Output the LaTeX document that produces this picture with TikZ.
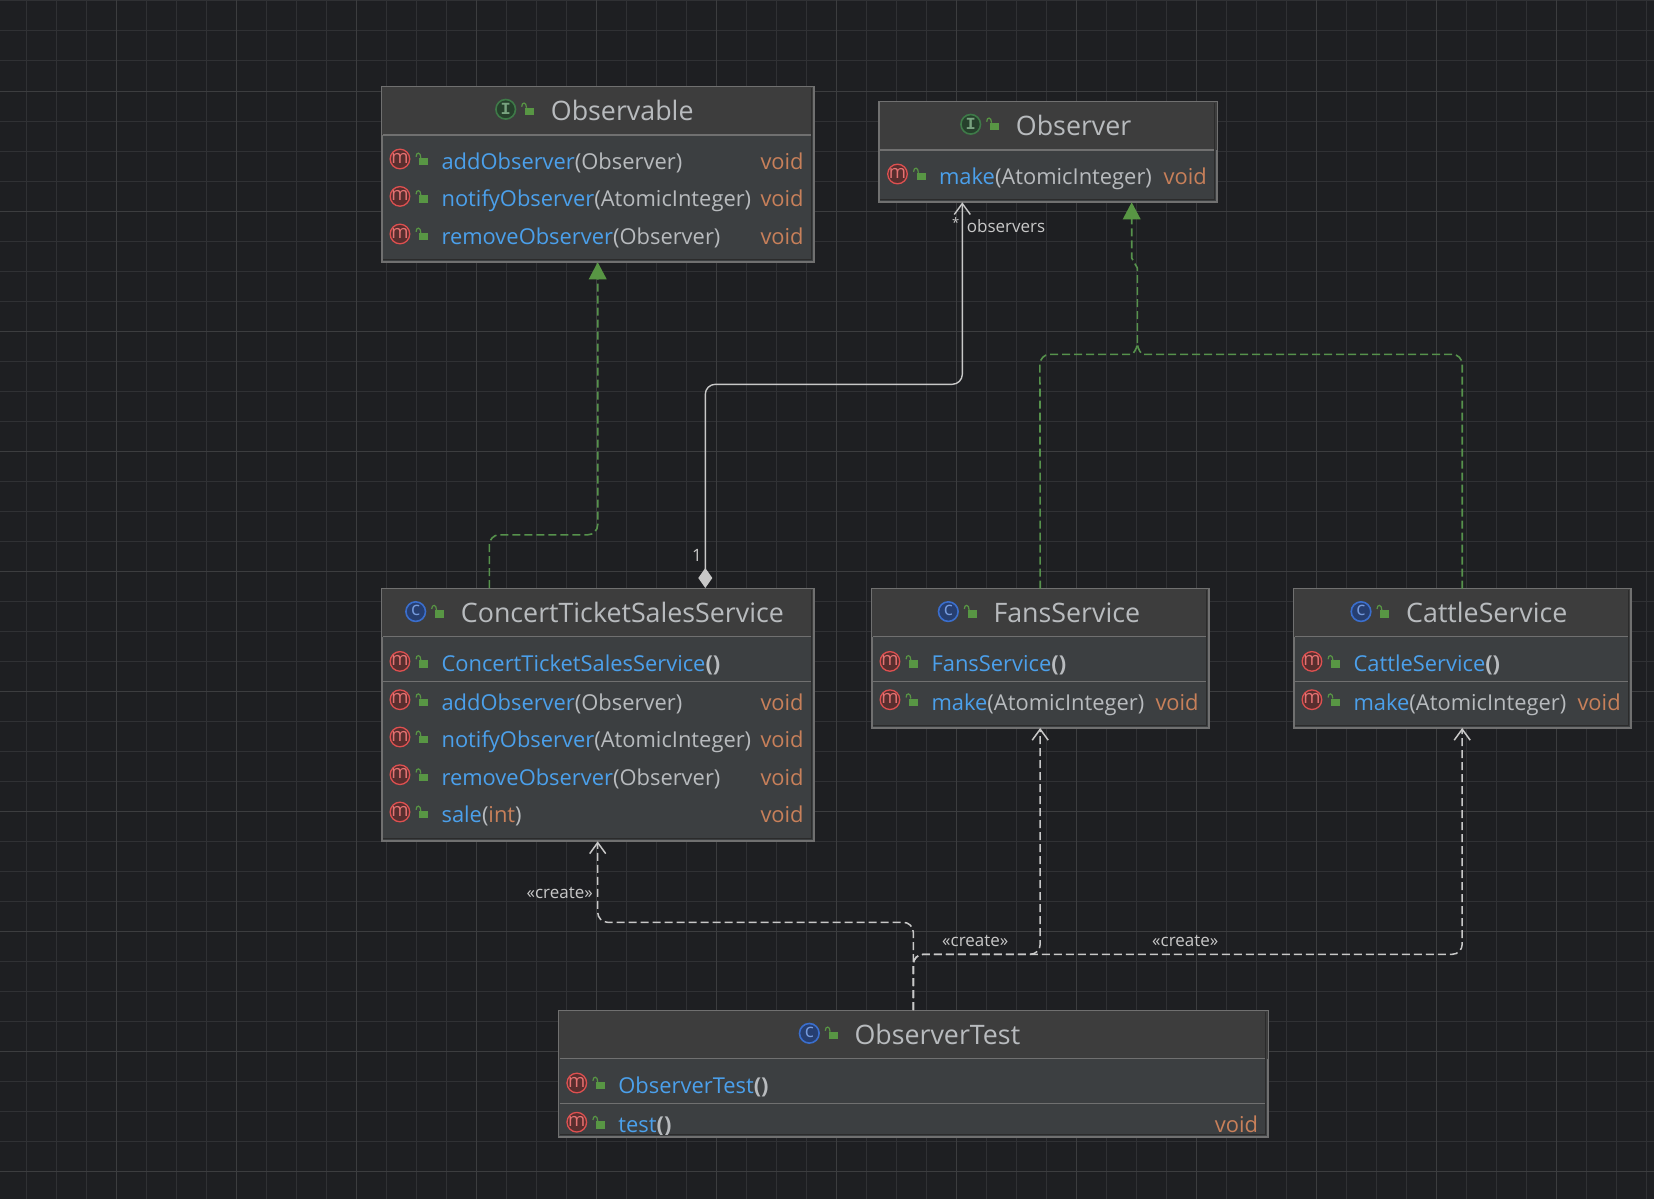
\documentclass[tikz,border=0pt]{standalone}
\usepackage{fontspec}
\setmainfont{Open Sans}
\newfontfamily\iconmono{Liberation Mono}
\usetikzlibrary{arrows.meta,calc}
\definecolor{canvascol}{RGB}{30,31,34}
\definecolor{gridcol}{RGB}{48,49,52}
\definecolor{gridmajor}{RGB}{60,61,63}
\definecolor{headcol}{RGB}{61,61,61}
\definecolor{bodycol}{RGB}{60,63,65}
\definecolor{edgecol}{RGB}{112,112,112}
\definecolor{shadecol}{RGB}{43,43,43}
\definecolor{textcol}{RGB}{184,187,190}
\definecolor{methodcol}{RGB}{75,160,235}
\definecolor{voidcol}{RGB}{200,128,90}
\definecolor{lockcol}{RGB}{88,150,68}
\definecolor{realizecol}{RGB}{86,146,76}
\definecolor{linkcol}{RGB}{200,200,200}
\definecolor{redcol}{RGB}{222,80,80}
\definecolor{reddark}{RGB}{88,46,46}
\definecolor{bluecol}{RGB}{58,110,205}
\definecolor{bluedark}{RGB}{38,62,112}
\definecolor{greencol}{RGB}{62,122,72}
\definecolor{greendark}{RGB}{38,64,44}

\tikzset{
  classbox/.style={rectangle, draw=edgecol, line width=1.2pt, fill=bodycol, inner sep=0pt},
  titletext/.style={anchor=base west, inner sep=0pt, text=textcol, font=\fontsize{26.8}{30}\selectfont},
  rowtext/.style={anchor=base west, inner sep=0pt, text=textcol, font=\fontsize{21.9}{26}\selectfont},
  voidtext/.style={anchor=base east, inner sep=0pt, text=voidcol, font=\fontsize{21.9}{26}\selectfont},
  linklabel/.style={inner sep=0pt, text=linkcol, font=\fontsize{17}{20}\selectfont},
  seprule/.style={draw=edgecol, line width=1.2pt},
  realizeline/.style={draw=realizecol, line width=1.6pt, dash pattern=on 8pt off 4pt, rounded corners=10pt},
  createline/.style={draw=linkcol, line width=1.5pt, dash pattern=on 8pt off 4pt, rounded corners=10pt},
  lockicon/.pic={
    \fill[lockcol] (4,-1.5) rectangle (13,6);
    \draw[lockcol, line width=1.2pt] (0.7,-2.5) .. controls (0.7,-7.5) and (5.5,-7.5) .. (5.5,-1.5);
  },
  methodicon/.pic={
    \draw[redcol, fill=reddark, line width=1.3pt] (0,0) circle[radius=9.8];
    \node[inner sep=0pt, text=redcol!80!white, font=\fontsize{18.5}{18}\selectfont] (-m) at (0,-1) {m};
  },
  classicon/.pic={
    \draw[bluecol, fill=bluedark, line width=1.6pt] (0,0) circle[radius=9.8];
    \node[inner sep=0pt, text=bluecol!70!white, font=\fontsize{19}{19}\selectfont] (-c) at (0,-1) {c};
  },
  interfaceicon/.pic={
    \draw[greencol, fill=greendark, line width=1.6pt] (0,0) circle[radius=9.8];
    \node[inner sep=0pt, text=greencol!70!white, font=\iconmono\bfseries\fontsize{17}{17}\selectfont] (-i) at (0,0) {I};
  },
}

% header band of a box: box, rule y, icon, title x, baseline, title
\newcommand{\classhead}[6]{
  \fill[headcol] (#1.north west) rectangle (#1.east |- 0,#2);
  \draw[shadecol, line width=1pt] ($(#1.north east)+(-2.5,1.5)$) -- ($(#1.south east)+(-2.5,-2.5)$) -- ($(#1.south west)+(1.5,-2.5)$);
  \draw[seprule] ($(#1.west |- 0,#2)+(1.5,0)$) -- ($(#1.east |- 0,#2)+(-3,0)$);
  \draw[edgecol, line width=1.2pt] (#1.north west) rectangle (#1.south east);
  \pic (#1icon) at ($(#4,#5)+(-46,-10.7)$) {#3};
  \pic at ($(#4,#5)+(-30.7,-10.8)$) {lockicon};
  \node[titletext] (#1title) at ($(#4,#5)+(-1,0.6)$) {#6};
}
\newcommand{\rowicons}[3]{
  \pic (#1mark) at ($(#2.west |- 0,#3)+(18.6,-10.3)$) {methodicon};
  \pic at ($(#2.west |- 0,#3)+(34,-10)$) {lockicon};
}
% row with a return type
\newcommand{\methodrow}[5]{
  \rowicons{#1}{#2}{#3}
  \node[rowtext] (#1name) at ($(#2.west |- 0,#3)+(60,0)$) {\textcolor{methodcol}{#4}#5};
  \node[voidtext] (#1void) at ($(#2.east |- 0,#3)+(-10.2,0)$) {void};
}
% row of a constructor
\newcommand{\ctorrow}[4]{
  \rowicons{#1}{#2}{#3}
  \node[rowtext] (#1name) at ($(#2.west |- 0,#3)+(60,0)$) {\textcolor{methodcol}{#4}\textbf{()}};
}

\begin{document}
\begin{tikzpicture}[x=1pt,y=-1pt]
\useasboundingbox (0,0) rectangle (1654,1199);
\fill[canvascol] (0,0) rectangle (1654,1199);

% grid
\foreach \gx in {26,56,...,1650} \draw[gridcol, line width=1pt] (\gx,0) -- (\gx,1199);
\foreach \gy in {1,31,...,1198} \draw[gridcol, line width=1pt] (0,\gy) -- (1654,\gy);
\foreach \gx in {116,236,...,1650} \draw[gridmajor, line width=1pt] (\gx,0) -- (\gx,1199);
\foreach \gy in {91,211,...,1198} \draw[gridmajor, line width=1pt] (0,\gy) -- (1654,\gy);

% boxes
\node[classbox, minimum width=431.5pt, minimum height=174.5pt] (observable) at (597.7,174.4) {};
\classhead{observable}{135}{interfaceicon}{551.7}{120}{Observable}
\methodrow{addone}{observable}{169.3}{addObserver}{(Observer)}
\methodrow{notifyone}{observable}{206.7}{notifyObserver}{(AtomicInteger)}
\methodrow{removeone}{observable}{244.3}{removeObserver}{(Observer)}

\node[classbox, minimum width=337pt, minimum height=99.5pt] (observer) at (1048,151.9) {};
\classhead{observer}{150}{interfaceicon}{1016.7}{135}{Observer}
\methodrow{makeone}{observer}{184.3}{make}{(AtomicInteger)}

\node[classbox, minimum width=431.5pt, minimum height=251.5pt] (concert) at (597.7,715) {};
\classhead{concert}{636.7}{classicon}{461.7}{622.3}{ConcertTicketSalesService}
\ctorrow{concertnew}{concert}{671.7}{ConcertTicketSalesService}
\draw[seprule] ($(concert.west |- 0,681.3)+(1.5,0)$) -- ($(concert.east |- 0,681.3)+(-3,0)$);
\methodrow{addtwo}{concert}{710}{addObserver}{(Observer)}
\methodrow{notifytwo}{concert}{747.3}{notifyObserver}{(AtomicInteger)}
\methodrow{removetwo}{concert}{785}{removeObserver}{(Observer)}
\methodrow{sale}{concert}{822.3}{sale}{(\textcolor{voidcol}{int})}

\node[classbox, minimum width=336.5pt, minimum height=138.2pt] (fans) at (1040.2,658.2) {};
\classhead{fans}{636.7}{classicon}{994.3}{622.3}{FansService}
\ctorrow{fansnew}{fans}{671.7}{FansService}
\draw[seprule] ($(fans.west |- 0,681.3)+(1.5,0)$) -- ($(fans.east |- 0,681.3)+(-3,0)$);
\methodrow{maketwo}{fans}{710}{make}{(AtomicInteger)}

\node[classbox, minimum width=336.5pt, minimum height=138.2pt] (cattle) at (1462.2,658.2) {};
\classhead{cattle}{636.7}{classicon}{1407}{622.3}{CattleService}
\ctorrow{cattlenew}{cattle}{671.7}{CattleService}
\draw[seprule] ($(cattle.west |- 0,681.3)+(1.5,0)$) -- ($(cattle.east |- 0,681.3)+(-3,0)$);
\methodrow{makethree}{cattle}{710}{make}{(AtomicInteger)}

\node[classbox, minimum width=709pt, minimum height=126pt] (tester) at (913.3,1073.7) {};
\classhead{tester}{1058.7}{classicon}{855.3}{1044}{ObserverTest}
\ctorrow{testernew}{tester}{1093.3}{ObserverTest}
\draw[seprule] ($(tester.west |- 0,1103.3)+(1.5,0)$) -- ($(tester.east |- 0,1103.3)+(-3,0)$);
\begin{scope}
\clip (tester.west |- 0,1104) rectangle (tester.east |- 0,1134);
\methodrow{testrun}{tester}{1132.5}{test}{\textbf{()}}
\end{scope}

% points on the connectors
\coordinate (concertroof) at (489.3,588);
\coordinate (concertdock) at (705.3,588);
\coordinate (observerdock) at (962.3,202.3);
\coordinate (realizedock) at (1131.7,202.3);
\coordinate (realizemeet) at (1137.3,343);

% connectors
\draw[realizeline] (concertroof) -- (489.3,534.8) -- (597.7,534.8) -- (597.7,275);
\fill[lockcol] (observable.south) -- ++(-9,17) -- ++(18,0) -- cycle;

\draw[linkcol, line width=1.4pt, rounded corners=10pt, {Diamond[length=20pt,width=14pt,fill=linkcol]}-{Straight Barb[length=11pt,width=16pt]}]
  (concertdock) -- (705.3,384.3) -- (962.3,384.3) -- (observerdock);

\draw[realizeline] (fans.north) -- (1039.9,354.3) -- (1122,354.3) [sharp corners] .. controls (1132,354.3) and (1137.3,350) .. (realizemeet);
\draw[realizeline] (cattle.north) -- (1462.2,354.3) -- (1152,354.3) [sharp corners] .. controls (1142.5,354.3) and (1137.3,350) .. (realizemeet);
\draw[realizeline, rounded corners=0pt] (realizemeet) -- (1137.3,268) -- (1131.7,258) -- (1131.7,215);
\fill[lockcol] (realizedock) -- ++(-9,17) -- ++(18,0) -- cycle;

\draw[createline, -{Straight Barb[length=11pt,width=16pt]}] (tester.north) -- (913.3,922.3) -- (597.7,922.3) -- (concert.south);
\draw[createline, -{Straight Barb[length=11pt,width=16pt]}] (tester.north) -- (913.3,954.3) -- (1040.2,954.3) -- (fans.south);
\draw[createline, -{Straight Barb[length=11pt,width=16pt]}] (tester.north) -- (913.3,954.3) -- (1462.2,954.3) -- (cattle.south);

% labels
\node[linklabel, font=\fontsize{13}{13}\selectfont] (manylabel) at (955.7,223) {*};
\node[linklabel, anchor=west] (observerslabel) at (966.7,226) {observers};
\node[linklabel] (onelabel) at (697,555) {1};
\node[linklabel, anchor=east] (createone) at (593,893) {«create»};
\node[linklabel, anchor=west] (createtwo) at (942,941) {«create»};
\node[linklabel, anchor=west] (createthree) at (1152,941) {«create»};
\end{tikzpicture}
\end{document}
